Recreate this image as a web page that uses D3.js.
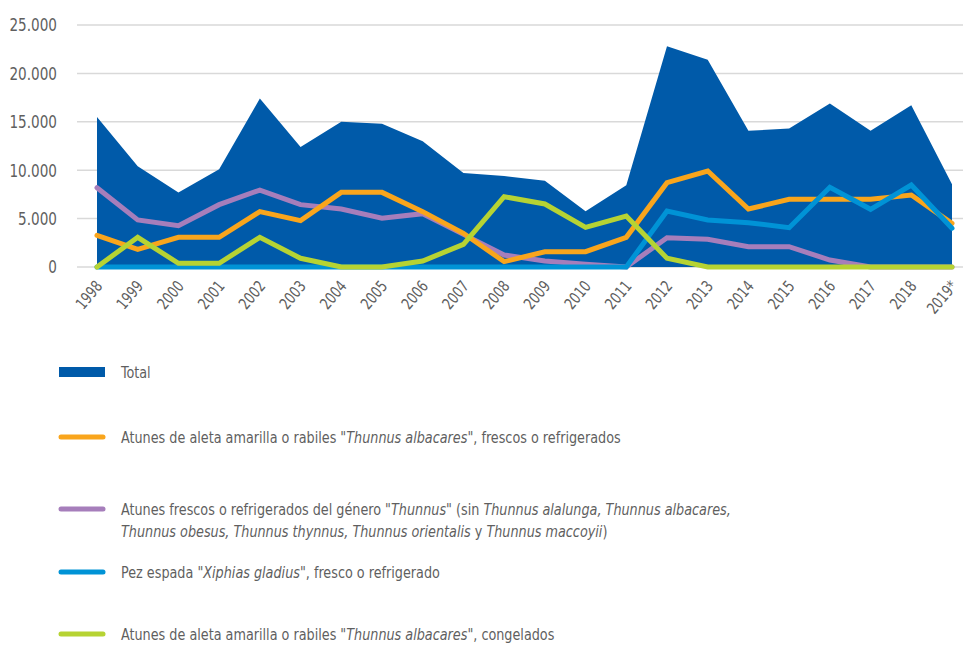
<!DOCTYPE html>
<html>
<head>
<meta charset="utf-8">
<script src="https://cdn.jsdelivr.net/npm/d3@7"></script>
<style>
  body { margin: 0; background: #fff; }
  svg text { font-family: "DejaVu Sans Condensed", "Liberation Sans Narrow", "Open Sans", sans-serif; fill: #5f5f5f; }
</style>
</head>
<body>
<div id="chart"></div>
<script>
const years = ['1998','1999','2000','2001','2002','2003','2004','2005','2006','2007','2008',
  '2009','2010','2011','2012','2013','2014','2015','2016','2017','2018','2019*'];

const total = [15500, 10400, 7700, 10100, 17400, 12400, 15000, 14800, 13000, 9700, 9400,
  8900, 5750, 8450, 22800, 21400, 14080, 14300, 16900, 14080, 16700, 8550];

const rabilFresco = [3270, 1820, 3070, 3070, 5720, 4790, 7710, 7710, 5720, 3480, 550,
  1580, 1580, 3070, 8710, 9920, 5990, 6990, 6990, 6990, 7440, 4510];

const thunnusOtros = [8190, 4860, 4270, 6440, 7950, 6440, 5990, 5030, 5510, 3370, 1240,
  620, 280, 0, 3030, 2860, 2100, 2100, 720, 0, 0, 0];

const pezEspada = [0, 0, 0, 0, 0, 0, 0, 0, 0, 0, 0,
  0, 0, 0, 5790, 4860, 4580, 4060, 8230, 5960, 8470, 4000];

const rabilCongelado = [0, 3070, 380, 380, 3070, 900, 0, 0, 620, 2340, 7260,
  6510, 4100, 5270, 900, 0, 0, 0, 0, 0, 0, 0];

const yTicks = [0, 5000, 10000, 15000, 20000, 25000];

const width = 963, height = 646;

const svg = d3.select('#chart').append('svg')
  .attr('width', width)
  .attr('height', height);

const x = d3.scalePoint().domain(years).range([97, 952]);
const y = d3.scaleLinear().domain([0, 25000]).range([267, 25]);

const fmt = v => v === 0 ? '0' : d3.format(',')(v).replace(/,/g, '.');

// grid
svg.append('g').selectAll('line')
  .data(yTicks)
  .enter()
  .append('line')
  .attr('x1', 77).attr('x2', 963)
  .attr('y1', d => y(d)).attr('y2', d => y(d))
  .attr('stroke', '#d9d9d9')
  .attr('stroke-width', 1.5);

// y labels (narrowed to look like the condensed original face)
svg.append('g').selectAll('text')
  .data(yTicks)
  .enter()
  .append('text')
  .attr('transform', d => `translate(57, ${y(d)}) scale(0.84, 1)`)
  .attr('dy', '0.35em')
  .attr('text-anchor', 'end')
  .style('font-size', '18px')
  .text(fmt);

// total area
const idx = d3.range(years.length);
const area = d3.area()
  .x(i => x(years[i]))
  .y0(y(0))
  .y1(i => y(total[i]));

svg.append('path')
  .datum(idx)
  .attr('d', area)
  .attr('fill', '#005AA9');

const series = [
  { values: thunnusOtros, color: '#A67EBB' },
  { values: rabilFresco, color: '#F9A51C' },
  { values: pezEspada, color: '#0093D6' },
  { values: rabilCongelado, color: '#B6D333' }
];

series.forEach(s => {
  const line = d3.line()
    .x(i => x(years[i]))
    .y(i => y(s.values[i]));
  svg.append('path')
    .datum(idx)
    .attr('d', line)
    .attr('fill', 'none')
    .attr('stroke', s.color)
    .attr('stroke-width', 5)
    .attr('stroke-linejoin', 'miter')
    .attr('stroke-linecap', 'round');
});

// x labels
svg.append('g').selectAll('text')
  .data(years)
  .enter()
  .append('text')
  .attr('transform', d => `translate(${x(d) + 2}, ${283}) rotate(-50) scale(0.85, 1)`)
  .attr('text-anchor', 'end')
  .attr('dy', '0.35em')
  .style('font-size', '16px')
  .text(d => d);

// legend
const legend = [
  { type: 'rect', color: '#005AA9', y: 372, lines: [[['Total', false]]] },
  { type: 'line', color: '#F9A51C', y: 437, lines: [[
    ['Atunes de aleta amarilla o rabiles "', false], ['Thunnus albacares', true], ['", frescos o refrigerados', false]]] },
  { type: 'line', color: '#A67EBB', y: 509, lines: [
    [['Atunes frescos o refrigerados del género "', false], ['Thunnus', true], ['" (sin ', false],
     ['Thunnus alalunga, Thunnus albacares,', true]],
    [['Thunnus obesus, Thunnus thynnus, Thunnus orientalis', true], [' y ', false], ['Thunnus maccoyii', true], [')', false]]] },
  { type: 'line', color: '#0093D6', y: 572, lines: [[
    ['Pez espada "', false], ['Xiphias gladius', true], ['", fresco o refrigerado', false]]] },
  { type: 'line', color: '#B6D333', y: 634, lines: [[
    ['Atunes de aleta amarilla o rabiles "', false], ['Thunnus albacares', true], ['", congelados', false]]] }
];

legend.forEach(item => {
  if (item.type === 'rect') {
    svg.append('rect')
      .attr('x', 59).attr('y', item.y - 5)
      .attr('width', 46).attr('height', 10)
      .attr('fill', item.color);
  } else {
    svg.append('line')
      .attr('x1', 61).attr('x2', 103)
      .attr('y1', item.y).attr('y2', item.y)
      .attr('stroke', item.color)
      .attr('stroke-width', 5)
      .attr('stroke-linecap', 'round');
  }
  item.lines.forEach((parts, li) => {
    const t = svg.append('text')
      .attr('transform', `translate(121, ${item.y + li * 22}) scale(0.89, 1)`)
      .attr('dy', '0.35em')
      .style('font-size', '16px');
    parts.forEach(p => {
      t.append('tspan')
        .style('font-style', p[1] ? 'italic' : 'normal')
        .text(p[0]);
    });
  });
});
</script>
</body>
</html>
